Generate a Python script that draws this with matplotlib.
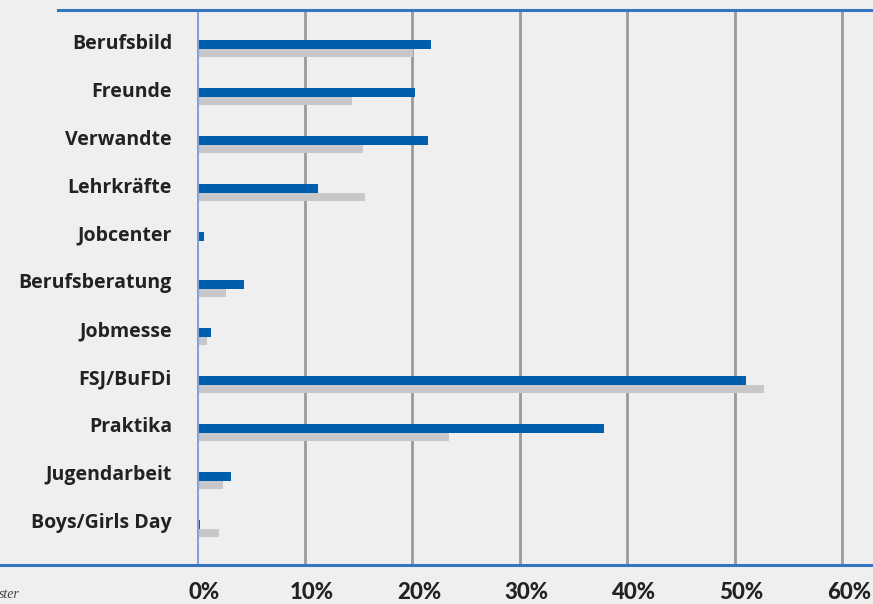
import matplotlib
matplotlib.use("Agg")
import matplotlib.pyplot as plt
import matplotlib.transforms as mtransforms
from matplotlib.lines import Line2D
import numpy as np

categories = ["Berufsbild", "Freunde", "Verwandte", "Lehrkräfte", "Jobcenter",
              "Berufsberatung", "Jobmesse", "FSJ/BuFDi", "Praktika",
              "Jugendarbeit", "Boys/Girls Day"]
blue_values = [21.8, 20.3, 21.5, 11.3, 0.65, 4.4, 1.3, 51.1, 37.9, 3.2, 0.3]
gray_values = [20.1, 14.4, 15.4, 15.6, 0.0, 2.7, 0.9, 52.7, 23.4, 2.4, 2.0]
xticks = [0, 10, 20, 30, 40, 50, 60]
xtick_labels = ["0%", "10%", "20%", "30%", "40%", "50%", "60%"]
source_text = "ster"

BG = "#efefef"
BLUE = "#005eae"
GRAY = "#c8c8ca"
LINE_BLUE = "#3574c0"
AXIS_BLUE = "#7fa2d8"
GRID = "#9a9a9a"
TEXT = "#222222"

W, H = 873, 604
fig = plt.figure(figsize=(W / 100, H / 100), dpi=100, facecolor=BG)
ax = fig.add_axes([197 / W, (H - 565) / H, (W - 197) / W, (565 - 10) / H])
ax.set_facecolor(BG)

y = np.arange(len(categories))
h = 0.18
ax.barh(y + 0.07, blue_values, height=h, color=BLUE, zorder=3)
ax.barh(y + 0.25, gray_values, height=h, color=GRAY, zorder=2)

ax.set_xlim(0, (W - 197) / 10.75)
ax.set_ylim(len(categories) - 1 + 0.917, -0.646)

for t in xticks[1:]:
    ax.axvline(t, color=GRID, lw=2, zorder=1)
ax.axvline(0, color=AXIS_BLUE, lw=2.2, zorder=4)

for s in ax.spines.values():
    s.set_visible(False)

ax.set_yticks(y)
ax.set_yticklabels(categories, fontsize=14, fontweight="bold", color=TEXT,
                   family=["Open Sans", "DejaVu Sans"])
ax.tick_params(axis="y", length=0, pad=18)

ax.set_xticks(xticks)
ax.set_xticklabels(xtick_labels, fontsize=16, fontweight="black", color=TEXT,
                   family=["Lato", "DejaVu Sans"])
ax.tick_params(axis="x", length=0, pad=12)
offset = mtransforms.ScaledTranslation(7 / 100, 0, fig.dpi_scale_trans)
for lab in ax.get_xticklabels():
    lab.set_transform(lab.get_transform() + offset)

# decorative horizontal rules
fig.add_artist(Line2D([58 / W, 1], [1 - 10 / H, 1 - 10 / H], color=LINE_BLUE, lw=2.2))
fig.add_artist(Line2D([0, 1], [1 - 565 / H, 1 - 565 / H], color=LINE_BLUE, lw=2.2))

fig.text(-1 / W, 1 - 594 / H, source_text, fontsize=10, style="italic",
         family=["Liberation Serif", "DejaVu Serif"], color="#444444",
         ha="left", va="center")

fig.savefig("out.png", dpi=100, facecolor=BG)
